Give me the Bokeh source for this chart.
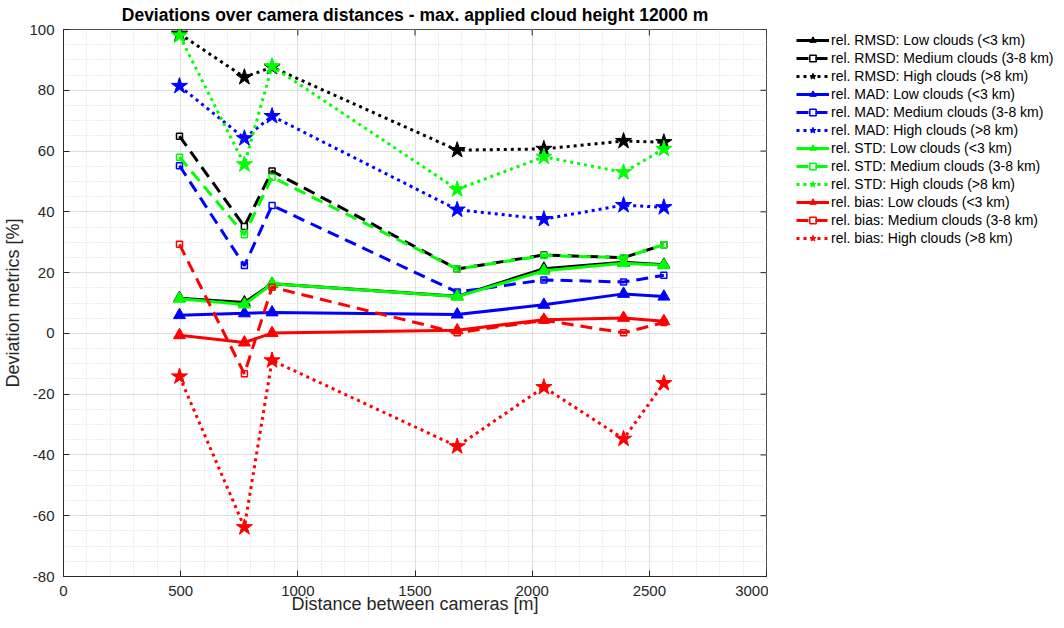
from bokeh.plotting import figure
from bokeh.layouts import row
from bokeh.models import Legend, LegendItem, SingleIntervalTicker, Range1d
from bokeh.embed import file_html
from bokeh.resources import INLINE

# Camera separations [m]
distances = [495, 772, 890, 1680, 2050, 2390, 2562]

# Relative deviation metrics [%] per cloud class
rmsd_low = [11.6, 10.2, 16.3, 12.2, 21.3, 23.4, 22.6]
rmsd_medium = [64.9, 35.2, 53.4, 21.2, 25.8, 24.9, 29.2]
rmsd_high = [98.6, 84.3, 87.6, 60.3, 60.7, 63.3, 62.9]

mad_low = [6.0, 6.6, 6.9, 6.2, 9.4, 13.0, 12.1]
mad_medium = [55.2, 22.3, 42.1, 13.6, 17.6, 16.9, 19.1]
mad_high = [81.4, 64.2, 71.5, 40.7, 37.6, 42.2, 41.5]

std_low = [11.4, 9.5, 16.3, 12.1, 20.6, 23.1, 22.4]
std_medium = [58.0, 32.5, 51.4, 21.2, 25.6, 24.9, 29.2]
std_high = [98.0, 55.6, 87.9, 47.4, 58.1, 53.0, 60.7]

bias_low = [-0.6, -3.0, 0.1, 1.0, 4.5, 5.1, 4.0]
bias_medium = [29.3, -13.3, 15.2, 0.2, 4.3, 0.2, 3.6]
bias_high = [-14.2, -63.8, -8.9, -37.2, -17.7, -34.7, -16.4]

x_ticks = [0, 500, 1000, 1500, 2000, 2500, 3000]
y_ticks = [-80, -60, -40, -20, 0, 20, 40, 60, 80, 100]

metrics = [
    ("rel. RMSD", "#000000", [rmsd_low, rmsd_medium, rmsd_high]),
    ("rel. MAD", "#0000ff", [mad_low, mad_medium, mad_high]),
    ("rel. STD", "#00ff00", [std_low, std_medium, std_high]),
    ("rel. bias", "#ff0000", [bias_low, bias_medium, bias_high]),
]
classes = [
    ("Low clouds (<3 km)", "solid", "triangle", 12, True),
    ("Medium clouds (3-8 km)", "12 7", "square", 6, False),
    ("High clouds (>8 km)", "3 4", "star", 17, True),
]

FONT = "Liberation Sans"
AX = "#262626"

x0, x1 = x_ticks[0], x_ticks[-1]
y0, y1 = y_ticks[0], y_ticks[-1]

# Main axes
p = figure(width=768, height=628, output_backend="svg", toolbar_location=None,
           x_range=Range1d(x0, x1), y_range=Range1d(y0, y1),
           min_border_left=62, min_border_right=2,
           min_border_top=29, min_border_bottom=52)
p.background_fill_color = "white"
p.border_fill_color = "white"
p.outline_line_color = AX
p.outline_line_alpha = 0.8

p.title.text = "Deviations over camera distances - max. applied cloud height 12000 m"
p.title.align = "center"
p.title.vertical_align = "top"
p.title.text_font = FONT
p.title.text_font_size = "17.5px"
p.title.text_font_style = "bold"
p.title.text_color = "#000000"
p.title.standoff = 6

xt = SingleIntervalTicker(interval=500, num_minor_ticks=5)
yt = SingleIntervalTicker(interval=20, num_minor_ticks=4)
p.xaxis.ticker = xt
p.yaxis.ticker = yt
# plain hyphen-minus on the negative tick labels
p.yaxis.major_label_overrides = {v: str(v) for v in y_ticks}
p.xaxis.axis_label = "Distance between cameras [m]"
p.yaxis.axis_label = "Deviation metrics [%]"

for ax in (p.xaxis[0], p.yaxis[0]):
    ax.axis_line_color = AX
    ax.major_tick_in = 6
    ax.major_tick_out = 0
    ax.minor_tick_line_color = None
    ax.major_tick_line_color = AX
    ax.major_label_text_font = FONT
    ax.major_label_text_font_size = "15px"
    ax.major_label_text_color = AX
    ax.axis_label_text_font = FONT
    ax.axis_label_text_font_size = "18px"
    ax.axis_label_text_font_style = "normal"
    ax.axis_label_text_color = AX
p.xaxis.major_label_standoff = 5
p.yaxis.major_label_standoff = 5
p.xaxis.axis_label_standoff = -5
p.yaxis.axis_label_standoff = 3

for g in (p.xgrid[0], p.ygrid[0]):
    g.grid_line_color = "#dedede"
    g.grid_line_width = 1
    g.minor_grid_line_color = "#d6d6d6"
    g.minor_grid_line_dash = "1 2"
    g.minor_grid_line_width = 1

# Mirrored tick marks along the top and right edges of the box
tick_dx = (x1 - x0) * 6 / 704
tick_dy = (y1 - y0) * 6 / 547
p.segment(x0=x_ticks, y0=[y1] * len(x_ticks), x1=x_ticks,
          y1=[y1 - tick_dy] * len(x_ticks), line_color=AX, line_width=1)
p.segment(x0=[x1] * len(y_ticks), y0=y_ticks, x1=[x1 - tick_dx] * len(y_ticks),
          y1=y_ticks, line_color=AX, line_width=1)

# Legend panel to the right of the axes; its range keeps the copies out of view
lp = figure(width=296, height=628, output_backend="svg", toolbar_location=None,
            x_axis_type=None, y_axis_type=None,
            x_range=Range1d(-2, -1), y_range=Range1d(-2, -1),
            min_border=0)
lp.outline_line_color = None
lp.background_fill_color = "white"
lp.border_fill_color = "white"

items = []
for mname, color, series in metrics:
    for (cname, dash, marker, msize, filled), ys in zip(classes, series):
        style = dict(line_color=color)
        p.line(distances, ys, line_width=3, line_dash=dash, **style)
        p.scatter(distances, ys, marker=marker, size=msize,
                  line_width=1.5 if not filled else 1,
                  fill_color=color if filled else None, **style)
        # matching legend swatches
        ln = lp.line(distances, ys, line_width=3, line_dash=dash, **style)
        sc = lp.scatter(distances, ys, marker=marker, size=msize,
                        line_width=1.5 if not filled else 1,
                        fill_color=color if filled else None, **style)
        items.append(LegendItem(label=f"{mname}: {cname}", renderers=[ln, sc]))

legend = Legend(items=items, location=(28, 330))
legend.glyph_width = 33
legend.glyph_height = 16
legend.label_height = 16
legend.spacing = 2
legend.padding = 2
legend.margin = 0
legend.label_standoff = 2
legend.label_text_font = FONT
legend.label_text_font_size = "14px"
legend.label_text_color = "#000000"
legend.border_line_color = None
legend.background_fill_alpha = 0
lp.add_layout(legend, "center")

layout = row(p, lp)
open("out.html", "w").write(file_html(layout, INLINE))
